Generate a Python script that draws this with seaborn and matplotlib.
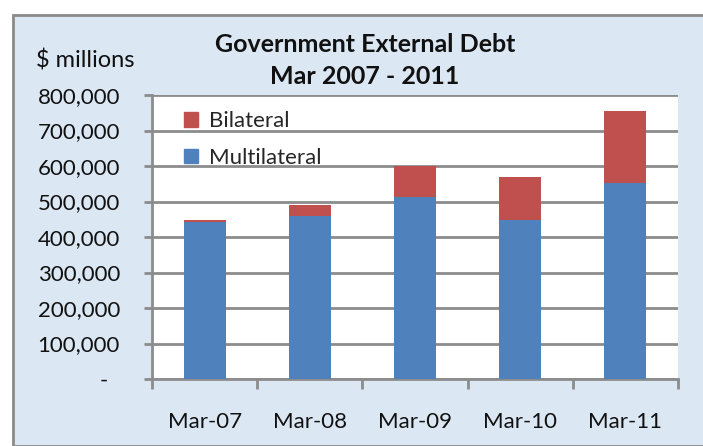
import matplotlib
matplotlib.use("Agg")
import matplotlib.pyplot as plt
import matplotlib.patches as mpatches
import seaborn as sns
import pandas as pd
import numpy as np

categories = ["Mar-07", "Mar-08", "Mar-09", "Mar-10", "Mar-11"]
multilateral = [442000, 459000, 512000, 448000, 552000]
bilateral = [7000, 30000, 88000, 120000, 202000]
yticks = [0, 100000, 200000, 300000, 400000, 500000, 600000, 700000, 800000]
ytick_labels = ["-  ", "100,000", "200,000", "300,000", "400,000", "500,000",
                "600,000", "700,000", "800,000"]

df = pd.DataFrame({"period": categories,
                   "Multilateral": multilateral,
                   "Bilateral": bilateral})
df["Total"] = df["Multilateral"] + df["Bilateral"]

sns.set_theme(style="white")
plt.rcParams["font.family"] = ["Lato", "DejaVu Sans"]

blue = "#4f81bd"
red = "#c0504d"
grid_c = "#8c8c8c"
txt = "#111111"
fs = 16

fig = plt.figure(figsize=(7.03, 4.46), dpi=100)
fig.patch.set_facecolor("white")
W, H = 703, 446
bg = mpatches.Rectangle((13 / W, 0), 1 - 13 / W + 0.01, 1 - 15 / H,
                        transform=fig.transFigure, facecolor="#dbe7f3",
                        edgecolor="#8a8a8a", linewidth=2, zorder=-10)
fig.patches.append(bg)

ax = fig.add_axes([152 / W, 1 - 379 / H, (678 - 152) / W, (379 - 95) / H])
ax.set_facecolor("white")

sns.barplot(data=df, x="period", y="Total", color=red, width=0.4,
            saturation=1, ax=ax, zorder=3, edgecolor="none", linewidth=0)
sns.barplot(data=df, x="period", y="Multilateral", color=blue, width=0.4,
            saturation=1, ax=ax, zorder=3, edgecolor="none", linewidth=0)

ax.set_xlim(-0.5, 4.5)
ax.set_ylim(0, 800000)
ax.set_yticks(yticks)
ax.set_yticklabels(ytick_labels, fontsize=fs, color=txt)
ax.yaxis.grid(True, color=grid_c, linewidth=2, zorder=0)
ax.set_axisbelow(True)

ax.set_xticks(range(len(categories)))
ax.set_xticklabels(categories, fontsize=fs, color=txt)
ax.tick_params(axis="x", which="major", length=0, pad=24)
ax.set_xticks(np.arange(-0.5, 5, 1), minor=True)
ax.tick_params(axis="x", which="minor", length=7, width=2, color=grid_c,
               direction="out", bottom=True)
ax.tick_params(axis="y", which="major", length=6, width=2, color=grid_c,
               direction="out", left=True, pad=17)

for s in ["top", "right"]:
    ax.spines[s].set_visible(False)
for s in ["left", "bottom"]:
    ax.spines[s].set_color(grid_c)
    ax.spines[s].set_linewidth(2)
ax.set_xlabel("")
ax.set_ylabel("")

handles = [mpatches.Patch(color=red, label="Bilateral"),
           mpatches.Patch(color=blue, label="Multilateral")]
ax.legend(handles=handles, loc="upper left", bbox_to_anchor=(0.035, 0.99),
          frameon=False, fontsize=fs, handlelength=0.65, handleheight=0.65,
          handletextpad=0.5, labelspacing=0.75, borderaxespad=0.2)

fig.text(365 / W, 1 - 45 / H, "Government External Debt", ha="center",
         va="center", fontsize=18, fontweight="bold", color=txt)
fig.text(365 / W, 1 - 76 / H, "Mar 2007 - 2011", ha="center",
         va="center", fontsize=18, fontweight="bold", color=txt)
fig.text(85 / W, 1 - 60 / H, "$ millions", ha="center", va="center",
         fontsize=17, color=txt)

fig.savefig("out.png", dpi=100)
